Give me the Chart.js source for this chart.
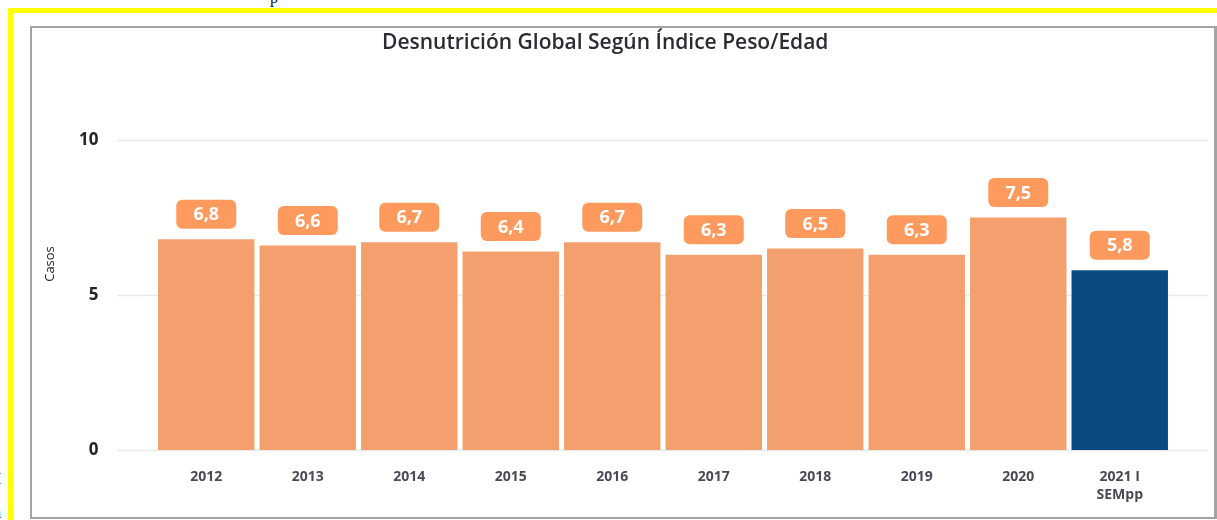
<!DOCTYPE html>
<html>
<head>
<meta charset="utf-8">
<script src="https://cdn.jsdelivr.net/npm/chart.js@4"></script>
<style>
  html, body { margin: 0; padding: 0; background: #fff; overflow: hidden; }
  body { width: 1217px; height: 520px; position: relative; font-family: 'Liberation Serif', serif; }
  .yellow { position: absolute; left: 8px; top: 8px; width: 1240px; height: 560px;
            border-top: 5px solid #ffff00; border-left: 5px solid #ffff00; }
  .frame { position: absolute; left: 30px; top: 26px; width: 1187px; height: 493px; box-sizing: border-box;
           border: 2px solid #a3a3a3; border-right-width: 3px; }
  .frag { position: absolute; color: #111; font-size: 16px; line-height: 16px; }
  #wrap { position: absolute; left: 0; top: 0; width: 1217px; height: 520px; }
</style>
</head>
<body>
<div class="frag" style="left:270px; top:-10px;">p</div>
<div class="frag" style="left:-4px; top:471px;">I</div>
<div class="frag" style="left:-6px; top:505px;">a</div>
<div class="yellow"></div>
<div class="frame"></div>
<div id="wrap"><canvas id="chart"></canvas></div>
<script>
// ─── データ ──────────────────────────────────
const years  = ['2012', '2013', '2014', '2015', '2016', '2017', '2018', '2019', '2020', ['2021 I', 'SEMpp']];
const values = [6.8, 6.6, 6.7, 6.4, 6.7, 6.3, 6.5, 6.3, 7.5, 5.8];
const barColors = ['#f4a06e', '#f4a06e', '#f4a06e', '#f4a06e', '#f4a06e',
                   '#f4a06e', '#f4a06e', '#f4a06e', '#f4a06e', '#0b4a80'];
const yTicks = [0, 5, 10];

const FONT = "'Open Sans', 'DejaVu Sans', sans-serif";

// 横グリッド（プロット領域より広く引く）
const wideGrid = {
  id: 'wideGrid',
  beforeDatasetsDraw(chart) {
    const { ctx, scales: { y } } = chart;
    ctx.save();
    ctx.strokeStyle = '#e9e9e9';
    ctx.lineWidth = 1.5;
    y.ticks.forEach(t => {
      const py = Math.round(y.getPixelForValue(t.value)) + 0.5;
      ctx.beginPath();
      ctx.moveTo(117, py);
      ctx.lineTo(1208, py);
      ctx.stroke();
    });
    ctx.restore();
  },
};

// 値ラベル（オレンジの角丸ボックス）
const boxLabels = {
  id: 'boxLabels',
  afterDatasetsDraw(chart) {
    const { ctx } = chart;
    const meta = chart.getDatasetMeta(0);
    ctx.save();
    ctx.font = `bold 18px ${FONT}`;
    ctx.textAlign = 'center';
    ctx.textBaseline = 'middle';
    meta.data.forEach((bar, i) => {
      const cx = bar.x, cy = bar.y - 25;
      ctx.fillStyle = '#fe9a5e';
      ctx.beginPath();
      ctx.roundRect(cx - 30, cy - 14.5, 60, 29, 6);
      ctx.fill();
      ctx.fillStyle = '#ffffff';
      ctx.fillText(values[i].toFixed(1).replace('.', ','), cx, cy + 1);
    });
    ctx.restore();
  },
};

new Chart(document.getElementById('chart').getContext('2d'), {
  type: 'bar',
  data: {
    labels: years,
    datasets: [{
      data: values,
      backgroundColor: barColors,
      borderWidth: 0,
      categoryPercentage: 1,
      barPercentage: 0.95,
    }],
  },
  options: {
    responsive: true,
    maintainAspectRatio: false,
    animation: false,
    layout: { padding: { left: 40, right: 46.5, top: 0, bottom: 10 } },
    plugins: {
      legend: { display: false },
      tooltip: { enabled: false },
      title: {
        display: true,
        text: 'Desnutrición Global Según Índice Peso/Edad',
        color: '#2b2b33',
        font: { family: FONT, size: 21, weight: '600', lineHeight: 1.2 },
        padding: { top: 30.4, bottom: 22.4 },
      },
    },
    scales: {
      x: {
        grid: { display: false, drawTicks: false },
        border: { display: false },
        ticks: {
          color: '#4a4a55', padding: 18, maxRotation: 0, autoSkip: false,
          font: { family: FONT, size: 14, weight: 'bold', lineHeight: 1.3 },
        },
        afterFit: s => { s.height = 60; },
      },
      y: {
        min: 0, max: 12,
        grid: { display: false, drawTicks: false },
        border: { display: false },
        afterBuildTicks: s => { s.ticks = yTicks.map(v => ({ value: v })); },
        ticks: {
          color: '#252423', padding: 57,
          font: { family: FONT, size: 17, weight: 'bold' },
        },
        title: {
          display: true, text: 'Casos', color: '#252423',
          font: { family: FONT, size: 13 }, padding: { top: 2, bottom: 0 },
        },
        afterFit: s => { s.width = 115.5; },
      },
    },
  },
  plugins: [wideGrid, boxLabels],
});
</script>
</body>
</html>
